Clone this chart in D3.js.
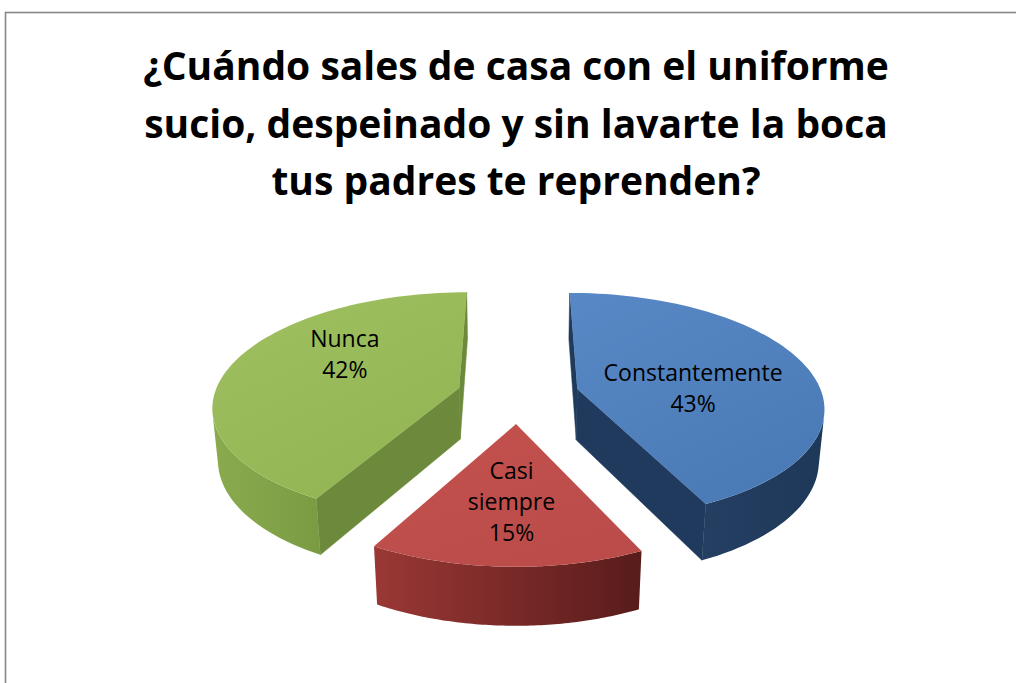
<!DOCTYPE html>
<html>
<head>
<meta charset="utf-8">
<script src="https://cdn.jsdelivr.net/npm/d3@7"></script>
<style>
  html, body { margin: 0; padding: 0; background: #fff; }
  svg { display: block; }
</style>
</head>
<body>
<div id="chart"></div>
<script>
// data
const categories = ["Constantemente", "Casi siempre", "Nunca"];
const values = [43, 15, 42];
const titleLines = [
  "¿Cuándo sales de casa con el uniforme",
  "sucio, despeinado y sin lavarte la boca",
  "tus padres te reprenden?"
];

// colours per slice: top face, outer side (left, right), cut face
const palette = [
  { top: ["#5889c6", "#4a7bb7"], side: ["#243f62", "#1d3858"], cut: "#1f3a5c" },
  { top: ["#c4524f", "#bb4c49"], side: ["#9a3835", "#581c1b"], cut: "#7a2a28" },
  { top: ["#a0c061", "#93b553"], side: ["#8aab4d", "#7a9b42"], cut: "#6d893b" }
];

const W = 1016, H = 683;
const cx = 518, cy = 395;   // screen position of pie centre
const focal = 1470;          // projection scale
const camDist = 6;           // camera distance in radii
const elev = Math.asin(0.457);
const ca = Math.cos(elev), sa = Math.sin(elev);
const thick = 0.24;          // pie height, in radii
const explode = 0.25;
// small nudges for the data labels (like Excel's best-fit placement)
const labelNudge = [11, 13, -20];

const svg = d3.select("#chart").append("svg")
  .attr("width", W)
  .attr("height", H);

// chart border (right/bottom edges fall outside the view)
svg.append("rect")
  .attr("x", 5.5).attr("y", 12.5)
  .attr("width", W + 20).attr("height", H + 20)
  .attr("fill", "none")
  .attr("stroke", "#878787")
  .attr("stroke-width", 1.6);

// title
svg.append("g").selectAll("text")
  .data(titleLines)
  .enter().append("text")
  .attr("x", 516)
  .attr("y", (d, i) => 80 + i * 57.5)
  .attr("text-anchor", "middle")
  .attr("font-family", "'Open Sans', sans-serif")
  .attr("font-weight", 700)
  .attr("font-size", 39)
  .attr("fill", "#000")
  .text(d => d);

const titleWidths = [757, 746, 496];
svg.selectAll("g text").each(function (d, i) {
  const len = this.getComputedTextLength();
  if (len > titleWidths[i]) {
    d3.select(this).attr("textLength", titleWidths[i]).attr("lengthAdjust", "spacingAndGlyphs");
  }
});

// 3D projection: u right, v toward viewer, z up
function proj(u, v, z) {
  const d = camDist - (v * ca + z * sa);
  const yUp = -v * sa + z * ca;
  return [cx + focal * u / d, cy - focal * yUp / d];
}
const cam = [0, camDist * ca, camDist * sa];
function facing(p, n) {
  return (cam[0] - p[0]) * n[0] + (cam[1] - p[1]) * n[1] + (cam[2] - p[2]) * n[2] > 0;
}

const pie = d3.pie().sort(null).value(d => d)(values);
const total = d3.sum(values);
const line = d3.line();
const defs = svg.append("defs");

const slices = pie.map((p, i) => {
  const mid = (p.startAngle + p.endAngle) / 2;
  const ou = explode * Math.sin(mid), ov = -explode * Math.cos(mid);
  return { p, i, mid, ou, ov, depth: ov };
});
// paint far slices first
slices.sort((a, b) => a.depth - b.depth);

const pieG = svg.append("g");

slices.forEach(s => {
  const { p, i, ou, ov } = s;
  const col = palette[i];
  const g = pieG.append("g");
  const n = 80;
  const angles = d3.range(n + 1).map(k => p.startAngle + (p.endAngle - p.startAngle) * k / n);
  const rim = (a, z) => [ou + Math.sin(a), ov - Math.cos(a), z];

  // gradients
  const sideId = "side" + i, topId = "top" + i;
  const sg = defs.append("linearGradient").attr("id", sideId).attr("x1", 0).attr("x2", 1).attr("y1", 0).attr("y2", 0);
  sg.append("stop").attr("offset", "0%").attr("stop-color", col.side[0]);
  sg.append("stop").attr("offset", "100%").attr("stop-color", col.side[1]);
  const tg = defs.append("linearGradient").attr("id", topId).attr("x1", 0).attr("x2", 0.6).attr("y1", 0).attr("y2", 1);
  tg.append("stop").attr("offset", "0%").attr("stop-color", col.top[0]);
  tg.append("stop").attr("offset", "100%").attr("stop-color", col.top[1]);

  // radial cut faces
  const cuts = [
    { a: p.startAngle, nrm: [-Math.cos(p.startAngle), -Math.sin(p.startAngle), 0] },
    { a: p.endAngle, nrm: [Math.cos(p.endAngle), Math.sin(p.endAngle), 0] }
  ];
  cuts.forEach(c => {
    const r = rim(c.a, 0);
    const midPt = [(ou + r[0]) / 2, (ov + r[1]) / 2, -thick / 2];
    if (!facing(midPt, c.nrm)) return;
    const pts = [proj(ou, ov, 0), proj(r[0], r[1], 0), proj(r[0], r[1], -thick), proj(ou, ov, -thick)];
    g.append("path").attr("d", line(pts) + "Z")
      .attr("fill", col.cut).attr("stroke", col.cut).attr("stroke-width", 0.5);
  });

  // outer curved side, visible part only
  const vis = [];
  for (let k = 0; k < n; k++) {
    const am = (angles[k] + angles[k + 1]) / 2;
    const pm = rim(am, -thick / 2);
    if (facing(pm, [Math.sin(am), -Math.cos(am), 0])) vis.push(k);
  }
  if (vis.length) {
    const k0 = d3.min(vis), k1 = d3.max(vis) + 1;
    const seg = angles.slice(k0, k1 + 1);
    const topPts = seg.map(a => { const r = rim(a, 0); return proj(r[0], r[1], 0); });
    const botPts = seg.map(a => { const r = rim(a, -thick); return proj(r[0], r[1], -thick); }).reverse();
    g.append("path").attr("d", line(topPts.concat(botPts)) + "Z")
      .attr("fill", `url(#${sideId})`);
  }

  // top face
  const topPts = [proj(ou, ov, 0)].concat(angles.map(a => { const r = rim(a, 0); return proj(r[0], r[1], 0); }));
  g.append("path").attr("d", line(topPts) + "Z")
    .attr("fill", `url(#${topId})`);

  // label
  const lr = 0.5;
  const anchor = proj(ou + lr * Math.sin(s.mid), ov - lr * Math.cos(s.mid), 0);
  const lines = categories[i].split(" ").concat([Math.round(values[i] / total * 100) + "%"]);
  const lh = 31;
  const ay = anchor[1] + labelNudge[i];
  g.append("g").selectAll("text")
    .data(lines)
    .enter().append("text")
    .attr("x", anchor[0])
    .attr("y", (d, k) => ay + (k - (lines.length - 1) / 2) * lh + 8)
    .attr("text-anchor", "middle")
    .attr("font-family", "'Open Sans', sans-serif")
    .attr("font-size", 23)
    .attr("fill", "#000")
    .text(d => d);
});
</script>
</body>
</html>
